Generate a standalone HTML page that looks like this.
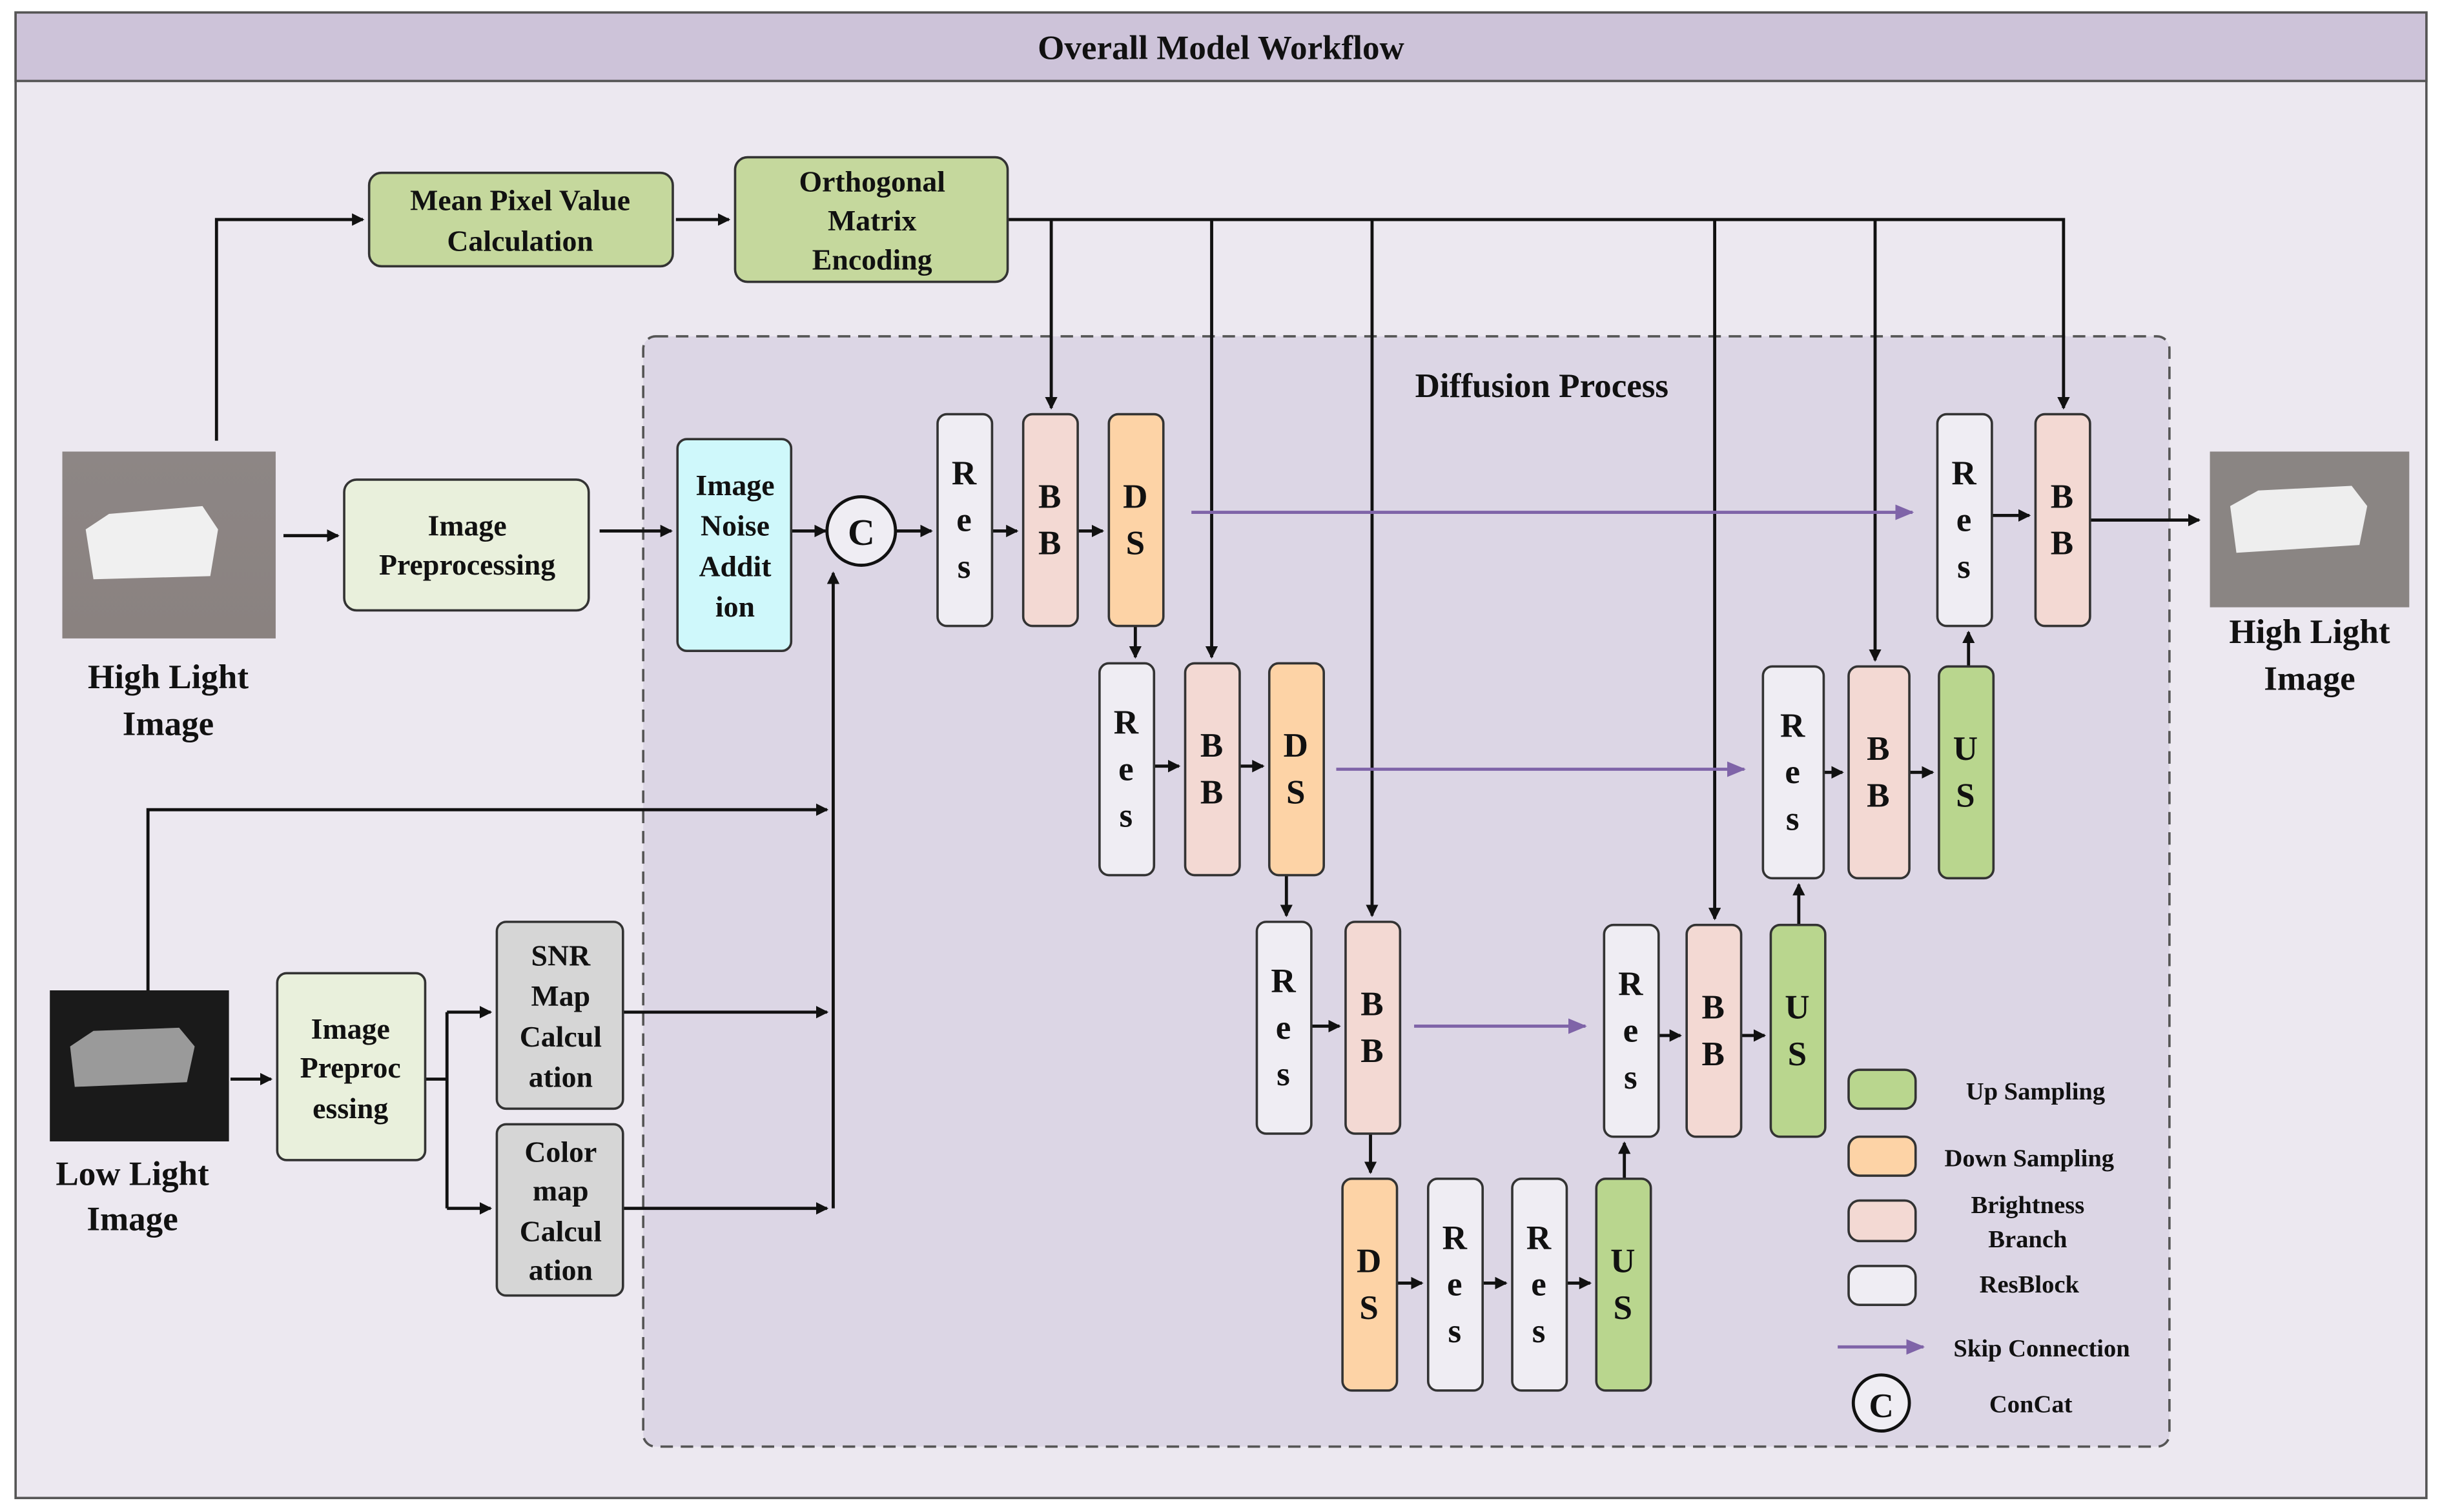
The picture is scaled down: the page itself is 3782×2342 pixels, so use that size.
<!DOCTYPE html>
<html><head><meta charset="utf-8"><style>html,body{margin:0;padding:0;background:#fff}svg{display:block}text{font-family:"Liberation Serif",serif;font-weight:bold;fill:#111;text-anchor:middle}</style></head><body>
<svg width="3782" height="2342" viewBox="0 0 1568 971" xmlns="http://www.w3.org/2000/svg">
<defs>
<marker id="a" markerWidth="8" markerHeight="8" refX="7" refY="4" orient="auto" markerUnits="userSpaceOnUse"><path d="M0,0 L8,4 L0,8 z" fill="#111"/></marker>
<marker id="p" markerWidth="12" markerHeight="10" refX="11" refY="5" orient="auto" markerUnits="userSpaceOnUse"><path d="M0,0 L12,5 L0,10 z" fill="#7f64a8"/></marker>
<linearGradient id="g1" x1="0" y1="0" x2="0" y2="1"><stop offset="0" stop-color="#8d8685"/><stop offset="1" stop-color="#8a8280"/></linearGradient>
</defs>
<rect x="10" y="8" width="1548" height="954" fill="#ece8f0" stroke="#555" stroke-width="1.5"/>
<rect x="10" y="8" width="1548" height="44" fill="#cdc3d9" stroke="#555" stroke-width="1.5"/>
<text x="784" y="38" font-size="22">Overall Model Workflow</text>
<rect x="413" y="216" width="980" height="713" rx="8" fill="#dcd6e5" stroke="#555" stroke-width="1.5" stroke-dasharray="8,5"/>
<text x="990" y="255" font-size="22">Diffusion Process</text>

<g stroke="#111" stroke-width="2" fill="none">
<polyline points="139,283 139,141 233,141" marker-end="url(#a)"/>
<line x1="434" y1="141" x2="468" y2="141" marker-end="url(#a)"/>
<polyline points="647,141 1325,141 1325,262" marker-end="url(#a)"/>
<line x1="675" y1="141" x2="675" y2="262" marker-end="url(#a)"/>
<line x1="778" y1="141" x2="778" y2="422" marker-end="url(#a)"/>
<line x1="881" y1="141" x2="881" y2="588" marker-end="url(#a)"/>
<line x1="1101" y1="141" x2="1101" y2="590" marker-end="url(#a)"/>
<line x1="1204" y1="141" x2="1204" y2="424" marker-end="url(#a)"/>
<line x1="182" y1="344" x2="217" y2="344" marker-end="url(#a)"/>
<line x1="385" y1="341" x2="431" y2="341" marker-end="url(#a)"/>
<line x1="508" y1="341" x2="530" y2="341" marker-end="url(#a)"/>
<line x1="575" y1="341" x2="598" y2="341" marker-end="url(#a)"/>
<line x1="637" y1="341" x2="653" y2="341" marker-end="url(#a)"/>
<line x1="692" y1="341" x2="708" y2="341" marker-end="url(#a)"/>
<line x1="729" y1="402" x2="729" y2="422" marker-end="url(#a)"/>
<line x1="741" y1="492" x2="757" y2="492" marker-end="url(#a)"/>
<line x1="796" y1="492" x2="811" y2="492" marker-end="url(#a)"/>
<line x1="826" y1="562" x2="826" y2="588" marker-end="url(#a)"/>
<line x1="842" y1="659" x2="860" y2="659" marker-end="url(#a)"/>
<line x1="880" y1="728" x2="880" y2="753" marker-end="url(#a)"/>
<line x1="897" y1="824" x2="913" y2="824" marker-end="url(#a)"/>
<line x1="952" y1="824" x2="967" y2="824" marker-end="url(#a)"/>
<line x1="1006" y1="824" x2="1021" y2="824" marker-end="url(#a)"/>
<line x1="1043" y1="757" x2="1043" y2="734" marker-end="url(#a)"/>
<line x1="1065" y1="665" x2="1079" y2="665" marker-end="url(#a)"/>
<line x1="1118" y1="665" x2="1133" y2="665" marker-end="url(#a)"/>
<line x1="1155" y1="594" x2="1155" y2="568" marker-end="url(#a)"/>
<line x1="1171" y1="496" x2="1183" y2="496" marker-end="url(#a)"/>
<line x1="1226" y1="496" x2="1241" y2="496" marker-end="url(#a)"/>
<line x1="1264" y1="428" x2="1264" y2="406" marker-end="url(#a)"/>
<line x1="1279" y1="331" x2="1303" y2="331" marker-end="url(#a)"/>
<line x1="1342" y1="334" x2="1412" y2="334" marker-end="url(#a)"/>
<polyline points="95,636 95,520 531,520" marker-end="url(#a)"/>
<line x1="535" y1="776" x2="535" y2="368" marker-end="url(#a)"/>
<line x1="400" y1="650" x2="531" y2="650" marker-end="url(#a)"/>
<line x1="400" y1="776" x2="531" y2="776" marker-end="url(#a)"/>
<line x1="148" y1="693" x2="174" y2="693" marker-end="url(#a)"/>
<line x1="273" y1="693" x2="287" y2="693"/>
<line x1="287" y1="650" x2="287" y2="776"/>
<line x1="287" y1="650" x2="315" y2="650" marker-end="url(#a)"/>
<line x1="287" y1="776" x2="315" y2="776" marker-end="url(#a)"/>
</g>
<g stroke="#7f64a8" stroke-width="2">
<line x1="765" y1="329" x2="1228" y2="329" marker-end="url(#p)"/>
<line x1="858" y1="494" x2="1120" y2="494" marker-end="url(#p)"/>
<line x1="908" y1="659" x2="1018" y2="659" marker-end="url(#p)"/>
<line x1="1180" y1="865" x2="1235" y2="865" marker-end="url(#p)"/>
</g>

<g stroke="#333" stroke-width="1.5">
<rect x="237" y="111" width="195" height="60" rx="8" fill="#c5d89d"/>
<rect x="472" y="101" width="175" height="80" rx="8" fill="#c5d89d"/>
<rect x="221" y="308" width="157" height="84" rx="8" fill="#e9f0dc"/>
<rect x="435" y="282" width="73" height="136" rx="6" fill="#cff8fb"/>
<circle cx="553" cy="341" r="22" fill="#efedf3" stroke="#111" stroke-width="2"/>
<rect x="178" y="625" width="95" height="120" rx="6" fill="#e9f0dc"/>
<rect x="319" y="592" width="81" height="120" rx="6" fill="#d6d6d6"/>
<rect x="319" y="722" width="81" height="110" rx="6" fill="#d6d6d6"/>
</g>
<rect x="40" y="290" width="137" height="120" fill="url(#g1)"/>
<path d="M55,340 L70,330 L130,325 L140,340 L135,370 L60,372 z" fill="#f0f0f0"/>
<rect x="1419" y="290" width="128" height="100" fill="#8a8583"/>
<path d="M1432,325 L1450,315 L1510,312 L1520,325 L1515,350 L1436,355 z" fill="#eee"/>
<rect x="32" y="636" width="115" height="97" fill="#1a1a1a"/>
<path d="M45,672 L60,662 L115,660 L125,672 L120,695 L48,698 z" fill="#9a9a9a"/>

<g font-size="19">
<text x="334" y="135">Mean Pixel Value</text><text x="334" y="161">Calculation</text>
<text x="560" y="123">Orthogonal</text><text x="560" y="148">Matrix</text><text x="560" y="173">Encoding</text>
<text x="300" y="344">Image</text><text x="300" y="369">Preprocessing</text>
<text x="472" y="318">Image</text><text x="472" y="344">Noise</text><text x="472" y="370">Addit</text><text x="472" y="396">ion</text>
<text x="225" y="667">Image</text><text x="225" y="692">Preproc</text><text x="225" y="718">essing</text>
<text x="360" y="620">SNR</text><text x="360" y="646">Map</text><text x="360" y="672">Calcul</text><text x="360" y="698">ation</text>
<text x="360" y="746">Color</text><text x="360" y="771">map</text><text x="360" y="797">Calcul</text><text x="360" y="822">ation</text>
</g>
<text x="553" y="350" font-size="24">C</text>
<g font-size="22">
<text x="108" y="442">High Light</text><text x="108" y="472">Image</text>
<text x="1483" y="413">High Light</text><text x="1483" y="443">Image</text>
<text x="85" y="761">Low Light</text><text x="85" y="790">Image</text>
</g>

<g stroke="#333" stroke-width="1.5" font-size="22">
<rect x="602" y="266" width="35" height="136" rx="6" fill="#efedf3"/>
<rect x="657" y="266" width="35" height="136" rx="6" fill="#f3d9d3"/>
<rect x="712" y="266" width="35" height="136" rx="6" fill="#fdd3a6"/>
<rect x="706" y="426" width="35" height="136" rx="6" fill="#efedf3"/>
<rect x="761" y="426" width="35" height="136" rx="6" fill="#f3d9d3"/>
<rect x="815" y="426" width="35" height="136" rx="6" fill="#fdd3a6"/>
<rect x="807" y="592" width="35" height="136" rx="6" fill="#efedf3"/>
<rect x="864" y="592" width="35" height="136" rx="6" fill="#f3d9d3"/>
<rect x="862" y="757" width="35" height="136" rx="6" fill="#fdd3a6"/>
<rect x="917" y="757" width="35" height="136" rx="6" fill="#efedf3"/>
<rect x="971" y="757" width="35" height="136" rx="6" fill="#efedf3"/>
<rect x="1025" y="757" width="35" height="136" rx="6" fill="#b9d68e"/>
<rect x="1030" y="594" width="35" height="136" rx="6" fill="#efedf3"/>
<rect x="1083" y="594" width="35" height="136" rx="6" fill="#f3d9d3"/>
<rect x="1137" y="594" width="35" height="136" rx="6" fill="#b9d68e"/>
<rect x="1132" y="428" width="39" height="136" rx="6" fill="#efedf3"/>
<rect x="1187" y="428" width="39" height="136" rx="6" fill="#f3d9d3"/>
<rect x="1245" y="428" width="35" height="136" rx="6" fill="#b9d68e"/>
<rect x="1244" y="266" width="35" height="136" rx="6" fill="#efedf3"/>
<rect x="1307" y="266" width="35" height="136" rx="6" fill="#f3d9d3"/>
<rect x="1187" y="687" width="43" height="25" rx="7" fill="#b9d68e"/>
<rect x="1187" y="730" width="43" height="25" rx="7" fill="#fdd3a6"/>
<rect x="1187" y="771" width="43" height="26" rx="7" fill="#f3d9d3"/>
<rect x="1187" y="813" width="43" height="25" rx="7" fill="#efedf3"/>
<circle cx="1208" cy="901" r="18" fill="#efedf3" stroke="#111" stroke-width="2"/>
</g>
<g font-size="22">
<text x="619" y="311">R</text><text x="619" y="341">e</text><text x="619" y="371">s</text>
<text x="674" y="326">B</text><text x="674" y="356">B</text>
<text x="729" y="326">D</text><text x="729" y="356">S</text>
<text x="723" y="471">R</text><text x="723" y="501">e</text><text x="723" y="531">s</text>
<text x="778" y="486">B</text><text x="778" y="516">B</text>
<text x="832" y="486">D</text><text x="832" y="516">S</text>
<text x="824" y="637">R</text><text x="824" y="667">e</text><text x="824" y="697">s</text>
<text x="881" y="652">B</text><text x="881" y="682">B</text>
<text x="879" y="817">D</text><text x="879" y="847">S</text>
<text x="934" y="802">R</text><text x="934" y="832">e</text><text x="934" y="862">s</text>
<text x="988" y="802">R</text><text x="988" y="832">e</text><text x="988" y="862">s</text>
<text x="1042" y="817">U</text><text x="1042" y="847">S</text>
<text x="1047" y="639">R</text><text x="1047" y="669">e</text><text x="1047" y="699">s</text>
<text x="1100" y="654">B</text><text x="1100" y="684">B</text>
<text x="1154" y="654">U</text><text x="1154" y="684">S</text>
<text x="1151" y="473">R</text><text x="1151" y="503">e</text><text x="1151" y="533">s</text>
<text x="1206" y="488">B</text><text x="1206" y="518">B</text>
<text x="1262" y="488">U</text><text x="1262" y="518">S</text>
<text x="1261" y="311">R</text><text x="1261" y="341">e</text><text x="1261" y="371">s</text>
<text x="1324" y="326">B</text><text x="1324" y="356">B</text>
<text x="1208" y="910" font-size="22">C</text>
</g>
<g font-size="16">
<text x="1307" y="706">Up Sampling</text>
<text x="1303" y="749">Down Sampling</text>
<text x="1302" y="779">Brightness</text><text x="1302" y="801">Branch</text>
<text x="1303" y="830">ResBlock</text>
<text x="1311" y="871">Skip Connection</text>
<text x="1304" y="907">ConCat</text>
</g>
</svg>
</body></html>
